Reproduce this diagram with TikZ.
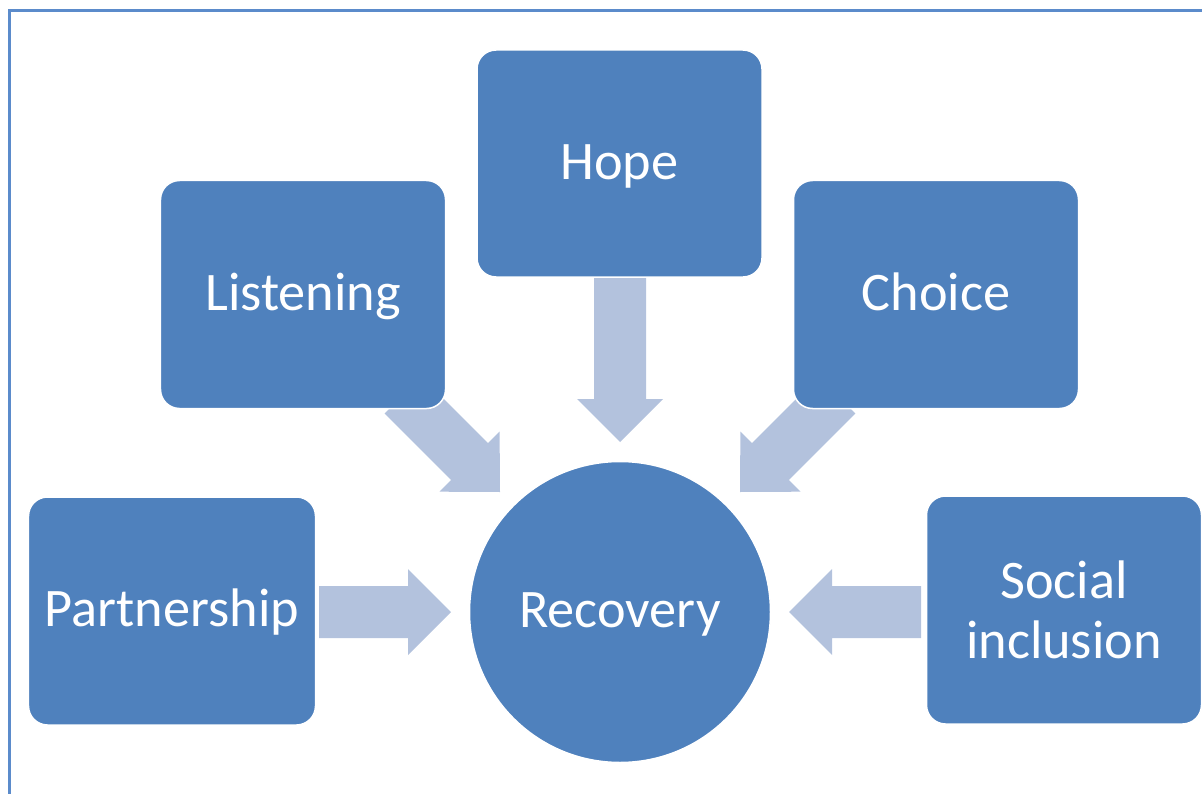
\documentclass[tikz,border=0pt]{standalone}
\usepackage{fontspec}
\setmainfont{Carlito}
\definecolor{boxblue}{HTML}{4F81BD}
\definecolor{arrowblue}{HTML}{B3C2DD}
\definecolor{framecol}{HTML}{5B8BCB}
\begin{document}
\begin{tikzpicture}[x=1bp,y=-1bp,
  box/.style={rectangle, rounded corners=19bp, fill=boxblue, draw=white, line width=1.5bp,
    text=white, align=center, inner sep=0pt, font=\fontsize{54.5}{60}\selectfont},
  oneline/.style={text height=43.6bp, text depth=12.5bp},
  hub/.style={circle, fill=boxblue, draw=white, line width=1.5bp, text=white,
    inner sep=0pt, minimum size=301bp, font=\fontsize{54.5}{60}\selectfont,
    text height=43.6bp, text depth=12.5bp},
  blockarrow/.style={fill=arrowblue, draw=none}]
\useasboundingbox (0,0) rectangle (1202,794);
% frame
\draw[framecol, line width=2.5bp] (9.5,794) -- (9.5,10.5) -- (1202,10.5);
% arrows
\draw[blockarrow] (319,586) -- (408,586) -- (408,569) -- (451,612) -- (408,655) -- (408,638) -- (319,638) -- cycle;
\draw[blockarrow] (921,586) -- (832,586) -- (832,569) -- (789,612) -- (832,655) -- (832,638) -- (921,638) -- cycle;
\draw[blockarrow] (594,270) -- (646,270) -- (646,399) -- (663,399) -- (620,442) -- (577,399) -- (594,399) -- cycle;
\draw[blockarrow] (421.5,376.7) -- (488.0,443.2) -- (499.6,431.5) -- (500,492) -- (439.5,491.7) -- (451.2,480.0) -- (384.7,413.5) -- cycle;
\draw[blockarrow] (818.5,376.7) -- (752.0,443.2) -- (740.4,431.5) -- (740,492) -- (800.5,491.7) -- (788.8,480.0) -- (855.3,413.5) -- cycle;
% boxes
\node[box, oneline, minimum width=285bp, minimum height=227bp] (hope) at (619.5,163.5) {Hope};
\node[box, oneline, minimum width=285bp, minimum height=228bp] (listening) at (303,294.5) {Listening};
\node[box, oneline, minimum width=285bp, minimum height=228bp] (choice) at (936,294.5) {Choice};
\node[box, oneline, minimum width=287bp, minimum height=228bp] (partnership) at (172,611) {Partnership};
\node[box, minimum width=275bp, minimum height=228bp] (social) at (1064,610) {Social\\inclusion};
\node[hub] (recovery) at (620,612) {Recovery};
\end{tikzpicture}
\end{document}
